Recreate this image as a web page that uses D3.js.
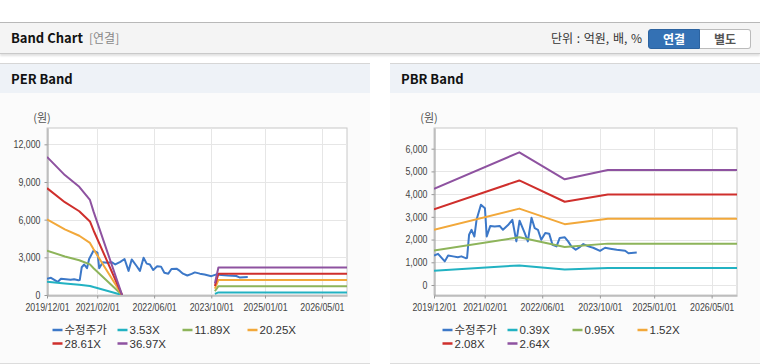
<!DOCTYPE html>
<html>
<head>
<meta charset="utf-8">
<script src="https://cdn.jsdelivr.net/npm/d3@7"></script>
<style>
  body { margin: 0; width: 760px; height: 364px; background: #fff; overflow: hidden;
         font-family: "Liberation Sans", Arial, "Noto Sans CJK KR", sans-serif; position: relative; }
  .topbar { position: absolute; left: 0; top: 22px; width: 760px; height: 30px; background: #f4f4f4;
            border-top: 1px solid #b8b8b8; border-bottom: 1px solid #c9c9c9; box-shadow: 0 2px 2px rgba(0,0,0,0.12); }
  .title { position: absolute; left: 11px; top: 6px; font-size: 13px; font-weight: bold; color: #111;
           font-family: "Noto Sans CJK KR", sans-serif; line-height: 18px; }
  .sub { position: absolute; left: 89px; top: 6px; font-size: 12px; color: #888; line-height: 18px;
         font-family: "Noto Sans CJK KR", sans-serif; }
  .unit { position: absolute; left: 551px; top: 6px; font-size: 12px; color: #333; line-height: 18px;
          font-family: "Noto Sans CJK KR", sans-serif; word-spacing: 1px; }
  .btn { position: absolute; top: 6px; height: 18px; width: 50px; font-size: 12px; font-weight: bold;
         text-align: center; line-height: 18px; font-family: "Noto Sans CJK KR", sans-serif; }
  .btn.on { left: 648px; background: #3471b4; color: #fff; border: 1px solid #2c63a0; border-radius: 3px 0 0 3px; }
  .btn.off { left: 700px; background: #fff; color: #555; border: 1px solid #bbb; border-left: none; border-radius: 0 3px 3px 0; }
  .panel { position: absolute; top: 63px; width: 370px; height: 299px; background: #fbfbfb;
           border-top: 1px solid #d6d6d6; border-bottom: 1px solid #dcdcdc; }
  .panel .head { height: 29px; background: #eef2f7; font-size: 13px; font-weight: bold; color: #111;
                 line-height: 29px; padding-left: 11px; font-family: "Noto Sans CJK KR", sans-serif; }
  svg { position: absolute; left: 0; top: 0; }
</style>
</head>
<body>
<div class="topbar">
  <div class="title">Band Chart</div>
  <div class="sub">[연결]</div>
  <div class="unit">단위 : 억원, 배, %</div>
  <div class="btn on">연결</div>
  <div class="btn off">별도</div>
</div>
<div class="panel" style="left:0px"><div class="head">PER Band</div></div>
<div class="panel" style="left:390px"><div class="head">PBR Band</div></div>
<div id="chart"></div>
<script>
// adjusted share price (수정주가)
var priceDates = ["2019-12-01","2020-01-04","2020-03-01","2020-03-29","2020-05-10","2020-06-19","2020-07-19",
  "2020-08-25","2020-09-05","2020-09-22","2020-10-13","2020-11-06","2020-11-24","2020-12-31","2021-02-03",
  "2021-02-18","2021-03-20","2021-04-26","2021-06-07","2021-07-05","2021-08-17","2021-09-22","2021-10-26",
  "2021-11-22","2022-01-04","2022-01-31","2022-03-03","2022-03-30","2022-04-26","2022-05-24","2022-06-27",
  "2022-07-30","2022-08-27","2022-09-30","2022-10-27","2022-12-09","2023-01-06","2023-02-02","2023-03-11",
  "2023-04-17","2023-05-14","2023-06-26","2023-08-05","2023-10-02","2023-11-14","2023-12-27","2024-02-20",
  "2024-05-01","2024-05-29","2024-08-07"];
var priceValues = [1300,1370,1040,1300,1260,1220,1260,
  1180,1190,2210,2430,2135,2870,3530,3380,
  2135,2600,2570,2600,2430,2640,2870,1920,
  2830,2290,1920,2960,2500,2430,1990,2290,
  2260,1770,1700,2070,2100,1920,1700,1550,
  1680,1800,1700,1640,1500,1640,1600,1550,
  1510,1400,1430];

// PER band lines (null = no band)
var perDates = ["2019-12-01","2020-05-01","2020-09-01","2020-12-01","2021-01-01","2021-09-01",
  "2022-10-01","2023-11-01","2023-12-01","2026-12-01"];
var per353  = [1050, 912, 823, 723, 634, 0, null,  88,  209,  209];
var per1189 = [3537,3071,2771,2435,2135, 0, null, 297,  704,  704];
var per2025 = [6025,5231,4720,4147,3637, 0, null, 506, 1199, 1199];
var per2861 = [8510,7390,6670,5859,5138, 0, null, 715, 1694, 1694];
var per3697 = [11000,9550,8620,7570,6640,0, null, 925, 2190, 2190];

// PBR band lines
var pbrDates = ["2019-12-01","2021-11-20","2022-12-08","2023-12-07","2026-12-01"];
var pbr039 = [625, 863, 687, 748, 748];
var pbr095 = [1522,2101,1673,1821,1821];
var pbr152 = [2435,3362,2677,2913,2913];
var pbr208 = [3333,4601,3664,3987,3987];
var pbr264 = [4230,5840,4650,5060,5060];

var xTickDates = ["2019-12-01","2021-02-01","2022-06-01","2023-10-01","2025-01-01","2026-05-01"];
var perYTicks = [0, 3000, 6000, 9000, 12000];
var pbrYTicks = [0, 1000, 2000, 3000, 4000, 5000, 6000];

var colors = ["#3c78c8", "#22b2c2", "#8db45a", "#f2a83a", "#cf2f2c", "#8e52a0"];

var parse = d3.timeParse("%Y-%m-%d");
var fmtTick = d3.timeFormat("%Y/%m/%d");

var svg = d3.select("#chart").append("svg")
    .attr("width", 760)
    .attr("height", 364);

// squeeze tick labels a bit: the original uses a narrow face
function narrow(sel) {
  sel.each(function() {
    var w = this.getComputedTextLength();
    d3.select(this).attr("textLength", w * 0.84).attr("lengthAdjust", "spacingAndGlyphs");
  });
}

function drawChart(cfg) {
  var x = d3.scaleTime()
    .domain([parse("2019-12-01"), parse("2026-12-01")])
    .range([cfg.left, cfg.right]);
  var y = d3.scaleLinear()
    .domain(cfg.yDomain)
    .range([cfg.bottom, cfg.top]);

  var g = svg.append("g");

  // plot background & frame
  g.append("rect")
    .attr("x", cfg.left).attr("y", cfg.top)
    .attr("width", cfg.right - cfg.left).attr("height", cfg.bottom - cfg.top)
    .attr("fill", "#fff").attr("stroke", "#c8c8c8");

  // grid
  g.selectAll(".hgrid").data(cfg.yTicks).enter().append("line")
    .attr("x1", cfg.left).attr("x2", cfg.right)
    .attr("y1", function(d) { return Math.round(y(d)) + 0.5; })
    .attr("y2", function(d) { return Math.round(y(d)) + 0.5; })
    .attr("stroke", "#e6e6e6");
  g.selectAll(".vgrid").data(xTickDates.slice(1)).enter().append("line")
    .attr("y1", cfg.top).attr("y2", cfg.bottom)
    .attr("x1", function(d) { return Math.round(x(parse(d))) + 0.5; })
    .attr("x2", function(d) { return Math.round(x(parse(d))) + 0.5; })
    .attr("stroke", "#e6e6e6");

  // axes
  var yAxis = g.append("g")
    .attr("transform", "translate(" + (cfg.left + 0.5) + ",0)")
    .call(d3.axisLeft(y).tickValues(cfg.yTicks).tickFormat(d3.format(",")).tickSize(3).tickPadding(4).tickSizeOuter(0));
  var xAxis = g.append("g")
    .attr("transform", "translate(0," + (cfg.bottom + 0.5) + ")")
    .call(d3.axisBottom(x).tickValues(xTickDates.map(parse)).tickFormat(fmtTick).tickSize(3).tickPadding(5).tickSizeOuter(0));
  [yAxis, xAxis].forEach(function(a) {
    a.select(".domain").attr("stroke", "#999");
    a.selectAll(".tick line").attr("stroke", "#999");
    a.selectAll(".tick text").attr("fill", "#444")
      .style("font-family", "'Liberation Sans', Arial, sans-serif")
      .style("font-size", "10.5px")
      .call(narrow);
  });

  g.append("text")
    .attr("x", cfg.left - 5).attr("y", cfg.top - 6)
    .attr("text-anchor", "middle")
    .attr("fill", "#555")
    .style("font-family", "'Noto Sans CJK KR', sans-serif").style("font-size", "11px")
    .text("(원)");

  // clip
  var clipId = "clip" + cfg.left;
  svg.append("clipPath").attr("id", clipId).append("rect")
    .attr("x", cfg.left).attr("y", cfg.top)
    .attr("width", cfg.right - cfg.left).attr("height", cfg.bottom - cfg.top);

  var line = d3.line()
    .defined(function(d) { return d.v !== null; })
    .x(function(d) { return x(d.date); })
    .y(function(d) { return y(d.v); });

  var series = [{ name: "수정주가", dates: priceDates, values: priceValues }]
    .concat(cfg.bands.map(function(b) { return { name: b.name, dates: cfg.bandDates, values: b.values }; }));

  var lines = g.append("g").attr("clip-path", "url(#" + clipId + ")");
  series.forEach(function(s, i) {
    var pts = s.dates.map(function(d, j) { return { date: parse(d), v: s.values[j] }; });
    lines.append("path")
      .attr("d", line(pts))
      .attr("fill", "none")
      .attr("stroke", colors[i])
      .attr("stroke-width", 2)
      .attr("stroke-linejoin", "round");
  });

  // legend
  var leg = g.append("g");
  series.forEach(function(s, i) {
    var lx = cfg.legendX + (i % 4) * 65;
    var ly = 330 + Math.floor(i / 4) * 13.5;
    leg.append("line")
      .attr("x1", lx).attr("x2", lx + 10)
      .attr("y1", ly).attr("y2", ly)
      .attr("stroke", colors[i]).attr("stroke-width", 2.5);
    leg.append("text")
      .attr("x", lx + 12).attr("y", ly + 4)
      .attr("fill", "#333")
      .style("font-family", "'Liberation Sans', Arial, 'Noto Sans CJK KR', sans-serif")
      .style("font-size", "11.5px")
      .text(s.name);
  });
}

drawChart({
  left: 47, right: 347, top: 128, bottom: 295,
  yDomain: [0, 13300], yTicks: perYTicks,
  bandDates: perDates,
  bands: [
    { name: "3.53X", values: per353 },
    { name: "11.89X", values: per1189 },
    { name: "20.25X", values: per2025 },
    { name: "28.61X", values: per2861 },
    { name: "36.97X", values: per3697 }
  ],
  legendX: 52.5
});

drawChart({
  left: 434, right: 737, top: 128, bottom: 295,
  yDomain: [-440, 6910], yTicks: pbrYTicks,
  bandDates: pbrDates,
  bands: [
    { name: "0.39X", values: pbr039 },
    { name: "0.95X", values: pbr095 },
    { name: "1.52X", values: pbr152 },
    { name: "2.08X", values: pbr208 },
    { name: "2.64X", values: pbr264 }
  ],
  legendX: 442.5
});
</script>
</body>
</html>
